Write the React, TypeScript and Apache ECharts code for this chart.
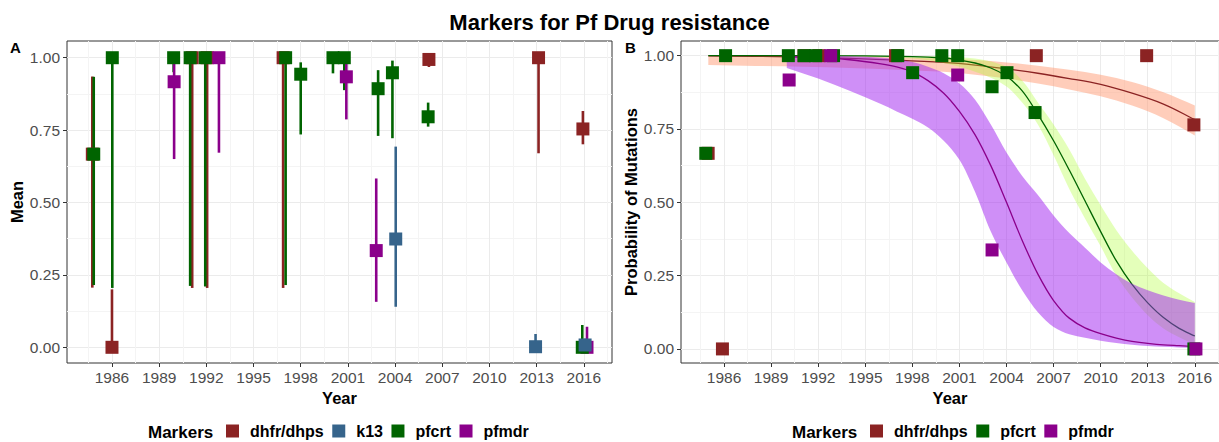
import React, { useEffect, useRef } from 'react';
import * as echarts from 'echarts';

const FONT = 'Liberation Sans, Arial, Helvetica, sans-serif';

const markers = ['dhfr/dhps', 'k13', 'pfcrt', 'pfmdr'];
const markersB = ['dhfr/dhps', 'pfcrt', 'pfmdr'];
const markerColors: Record<string, string> = {
  'dhfr/dhps': '#8B2323',
  k13: '#36648B',
  pfcrt: '#006400',
  pfmdr: '#8B008B',
};
const ribbonColors: Record<string, string> = {
  'dhfr/dhps': 'rgba(255,160,122,0.52)',
  pfcrt: 'rgba(173,255,47,0.33)',
  pfmdr: 'rgba(160,32,240,0.5)',
};

const xTicks = [1986, 1989, 1992, 1995, 1998, 2001, 2004, 2007, 2010, 2013, 2016];
const xMinor = [1984.5, 1987.5, 1990.5, 1993.5, 1996.5, 1999.5, 2002.5, 2005.5, 2008.5, 2011.5, 2014.5, 2017.5];
const yTicks = [0, 0.25, 0.5, 0.75, 1];
const yMinor = [0.125, 0.375, 0.625, 0.875];

// Panel A: [year, mean, lower, upper]
const meanDhfr = [
  [1984.75, 0.667, 0.206, 0.935],
  [1986.0, 0.0, 0.0, 0.2],
  [1991.1, 1.0, 0.205, 1.0],
  [1992.05, 1.0, 0.205, 1.0],
  [1996.88, 1.0, 0.205, 1.0],
  [2006.15, 0.994, 0.968, 1.0],
  [2013.12, 1.0, 0.67, 1.0],
  [2015.94, 0.754, 0.701, 0.816],
];
const meanK13 = [
  [2004.04, 0.374, 0.14, 0.693],
  [2012.93, 0.002, 0.0, 0.046],
  [2016.08, 0.008, 0.0, 0.03],
];
const meanPfcrt = [
  [1984.84, 0.667, 0.215, 0.934],
  [1986.02, 1.0, 0.205, 1.0],
  [1989.92, 1.0, 0.95, 1.0],
  [1990.97, 1.0, 0.212, 1.0],
  [1991.93, 1.0, 0.21, 1.0],
  [1997.04, 1.0, 0.215, 1.0],
  [1998.0, 0.943, 0.735, 0.984],
  [2000.05, 1.0, 0.946, 1.0],
  [2000.77, 1.0, 0.888, 1.0],
  [2002.92, 0.893, 0.73, 0.957],
  [2003.83, 0.948, 0.722, 0.99],
  [2006.1, 0.796, 0.762, 0.845],
  [2015.9, 0.0, 0.0, 0.077],
];
const meanPfmdr = [
  [1989.95, 0.917, 0.65, 0.985],
  [1992.8, 1.0, 0.672, 1.0],
  [2000.9, 0.934, 0.787, 0.985],
  [2002.8, 0.334, 0.157, 0.583],
  [2016.2, 0.0, 0.0, 0.071],
];

// Panel B observed proportions: [year, proportion]
const probDhfr = [
  [1984.99, 0.667],
  [1985.9, 0.0],
  [1991.1, 1.0],
  [1992.05, 1.0],
  [1996.93, 1.0],
  [2005.9, 1.0],
  [2012.93, 1.0],
  [2015.94, 0.764],
];
const probPfcrt = [
  [1984.84, 0.667],
  [1986.1, 1.0],
  [1990.1, 1.0],
  [1991.1, 1.0],
  [1991.84, 1.0],
  [1992.98, 1.0],
  [1997.07, 1.0],
  [1998.02, 0.942],
  [1999.88, 1.0],
  [2000.89, 1.0],
  [2003.08, 0.894],
  [2004.03, 0.942],
  [2005.82, 0.806],
  [2015.94, 0.0],
];
const probPfmdr = [
  [1990.15, 0.917],
  [1992.8, 1.0],
  [2000.89, 0.934],
  [2003.08, 0.3375],
  [2016.07, 0.0],
];

// Panel B fitted curves: [year, fit, lower, upper]
const fitDhfr = [
  [1985, 0.999, 0.968, 1.0],
  [1988, 0.998, 0.965, 1.0],
  [1991, 0.995, 0.962, 0.999],
  [1994, 0.991, 0.958, 0.998],
  [1997, 0.985, 0.952, 0.995],
  [2000, 0.977, 0.945, 0.99],
  [2002, 0.968, 0.935, 0.985],
  [2004, 0.955, 0.922, 0.977],
  [2006, 0.94, 0.905, 0.966],
  [2008, 0.922, 0.885, 0.952],
  [2010, 0.902, 0.862, 0.935],
  [2012, 0.872, 0.83, 0.91],
  [2014, 0.835, 0.787, 0.875],
  [2016, 0.782, 0.728, 0.83],
];
const fitPfcrt = [
  [1985, 1.0, 0.999, 1.0],
  [1990, 1.0, 0.998, 1.0],
  [1995, 0.999, 0.996, 1.0],
  [1998, 0.997, 0.99, 0.999],
  [2000, 0.992, 0.975, 0.997],
  [2001, 0.985, 0.962, 0.995],
  [2002, 0.975, 0.945, 0.99],
  [2003, 0.958, 0.925, 0.98],
  [2004, 0.93, 0.895, 0.962],
  [2005, 0.88, 0.84, 0.915],
  [2006, 0.8, 0.765, 0.84],
  [2007, 0.71, 0.66, 0.765],
  [2008, 0.61, 0.545, 0.68],
  [2009, 0.505, 0.445, 0.58],
  [2010, 0.4, 0.35, 0.49],
  [2011, 0.3, 0.25, 0.405],
  [2012, 0.22, 0.175, 0.335],
  [2013, 0.157, 0.115, 0.275],
  [2014, 0.107, 0.07, 0.225],
  [2015, 0.07, 0.04, 0.19],
  [2016, 0.044, 0.015, 0.16],
];
const fitPfmdr = [
  [1990, 0.997, 0.958, 0.999],
  [1992, 0.994, 0.922, 0.999],
  [1994, 0.986, 0.88, 0.998],
  [1996, 0.972, 0.835, 0.993],
  [1997, 0.962, 0.81, 0.988],
  [1998, 0.945, 0.785, 0.978],
  [1999, 0.915, 0.755, 0.962],
  [2000, 0.872, 0.71, 0.94],
  [2001, 0.81, 0.645, 0.905],
  [2002, 0.73, 0.535, 0.85],
  [2003, 0.625, 0.4, 0.765],
  [2004, 0.5, 0.295, 0.67],
  [2005, 0.37, 0.2, 0.59],
  [2006, 0.255, 0.125, 0.525],
  [2007, 0.165, 0.075, 0.455],
  [2008, 0.105, 0.05, 0.395],
  [2009, 0.072, 0.038, 0.345],
  [2010, 0.052, 0.028, 0.295],
  [2011, 0.037, 0.02, 0.255],
  [2012, 0.026, 0.014, 0.222],
  [2013, 0.019, 0.01, 0.2],
  [2014, 0.014, 0.007, 0.182],
  [2015, 0.011, 0.005, 0.168],
  [2016, 0.008, 0.003, 0.157],
];

// monotone cubic path through pixel points
function monotone(pts: number[][], cmd: string): string {
  const n = pts.length;
  if (n === 0) return '';
  let d = `${cmd}${pts[0][0]} ${pts[0][1]}`;
  if (n === 1) return d;
  const dx: number[] = [];
  const m: number[] = [];
  for (let i = 0; i < n - 1; i++) {
    dx[i] = pts[i + 1][0] - pts[i][0];
    m[i] = dx[i] === 0 ? 0 : (pts[i + 1][1] - pts[i][1]) / dx[i];
  }
  const t: number[] = new Array(n).fill(0);
  t[0] = m[0];
  t[n - 1] = m[n - 2];
  for (let i = 1; i < n - 1; i++) {
    if (m[i - 1] * m[i] <= 0) t[i] = 0;
    else {
      t[i] = (3 * (dx[i - 1] + dx[i])) / ((2 * dx[i] + dx[i - 1]) / m[i - 1] + (dx[i] + 2 * dx[i - 1]) / m[i]);
    }
  }
  for (let i = 0; i < n - 1; i++) {
    const h = dx[i] / 3;
    const [x0, y0] = pts[i];
    const [x1, y1] = pts[i + 1];
    d += ` C${x0 + h} ${y0 + t[i] * h} ${x1 - h} ${y1 - t[i + 1] * h} ${x1} ${y1}`;
  }
  return d;
}

const axisLabelStyle = { color: '#4D4D4D', fontSize: 15.5, fontFamily: FONT };
const nameStyle = { color: '#000', fontSize: 16.5, fontWeight: 'bold' as const, fontFamily: FONT };

function xAxes(gridIndex: number, min: number, max: number) {
  return [
    {
      gridIndex, type: 'value', min, max, position: 'bottom',
      name: 'Year', nameLocation: 'middle', nameGap: 22, nameTextStyle: nameStyle,
      axisLine: { show: false, onZero: false },
      axisTick: { show: true, length: 4, lineStyle: { color: '#333' }, customValues: xTicks },
      axisLabel: { ...axisLabelStyle, margin: 6, customValues: xTicks, formatter: (v: number) => String(Math.round(v)) },
      splitLine: { show: true, lineStyle: { color: '#EBEBEB', width: 1 } },
    },
    {
      gridIndex, type: 'value', min, max, position: 'top',
      axisLine: { show: false, onZero: false },
      axisTick: { show: false, customValues: xMinor },
      axisLabel: { show: false, customValues: xMinor },
      splitLine: { show: true, lineStyle: { color: '#F4F4F4', width: 1 } },
    },
  ];
}
function yAxes(gridIndex: number, min: number, max: number, name: string) {
  return [
    {
      gridIndex, type: 'value', min, max, position: 'left',
      name, nameLocation: 'middle', nameGap: 42, nameTextStyle: nameStyle,
      axisLine: { show: false, onZero: false },
      axisTick: { show: true, length: 4, lineStyle: { color: '#333' }, customValues: yTicks },
      axisLabel: { ...axisLabelStyle, margin: 7, customValues: yTicks, formatter: (v: number) => v.toFixed(2) },
      splitLine: { show: true, lineStyle: { color: '#EBEBEB', width: 1 } },
    },
    {
      gridIndex, type: 'value', min, max, position: 'right',
      axisLine: { show: false, onZero: false },
      axisTick: { show: false, customValues: yMinor },
      axisLabel: { show: false, customValues: yMinor },
      splitLine: { show: true, lineStyle: { color: '#F4F4F4', width: 1 } },
    },
  ];
}

function errorBars(name: string, rows: number[][]) {
  const color = markerColors[name];
  return {
    type: 'custom', name: name + ' CI', xAxisIndex: 0, yAxisIndex: 0, data: rows,
    encode: { x: 0, y: [2, 3] }, silent: true,
    renderItem: (params: any, api: any) => {
      const a = api.coord([api.value(0), api.value(2)]);
      const b = api.coord([api.value(0), api.value(3)]);
      return { type: 'line', shape: { x1: a[0], y1: a[1], x2: b[0], y2: b[1] }, style: { stroke: color, lineWidth: 2.6 } };
    },
  };
}
function points(name: string, rows: number[][], xi: number, yi: number) {
  return {
    type: 'scatter', name, xAxisIndex: xi, yAxisIndex: yi, data: rows, encode: { x: 0, y: 1 },
    symbol: 'rect', symbolSize: 13, itemStyle: { color: markerColors[name], opacity: 1 }, silent: true,
  };
}
function ribbon(name: string, rows: number[][]) {
  const color = ribbonColors[name];
  return {
    type: 'custom', name: name + ' band', xAxisIndex: 2, yAxisIndex: 2, data: rows,
    encode: { x: 0, y: [2, 3] }, silent: true, clip: true,
    renderItem: (params: any, api: any) => {
      if (params.dataIndex !== 0) return null;
      const up = rows.map((r) => api.coord([r[0], r[3]]));
      const lo = rows.map((r) => api.coord([r[0], r[2]])).reverse();
      return { type: 'path', shape: { pathData: monotone(up, 'M') + ' ' + monotone(lo, 'L') + ' Z' }, style: { fill: color, stroke: 'none' } };
    },
  };
}
function fitLine(name: string, rows: number[][]) {
  const color = markerColors[name];
  return {
    type: 'custom', name: name + ' fit', xAxisIndex: 2, yAxisIndex: 2, data: rows,
    encode: { x: 0, y: 1 }, silent: true, clip: true,
    renderItem: (params: any, api: any) => {
      if (params.dataIndex !== 0) return null;
      const pts = rows.map((r) => api.coord([r[0], r[1]]));
      return { type: 'path', shape: { pathData: monotone(pts, 'M') }, style: { fill: 'none', stroke: color, lineWidth: 1.3 } };
    },
  };
}

const legendBase = {
  orient: 'horizontal', top: 423, padding: 0, icon: 'rect', itemWidth: 13, itemHeight: 13, itemGap: 8.5,
  selectedMode: false,
  textStyle: { color: '#000', fontSize: 16, fontWeight: 'bold', fontFamily: FONT, padding: [0, 0, 0, 6] },
};

export default function App() {
  const ref = useRef<HTMLDivElement>(null);
  useEffect(() => {
    if (!ref.current) return;
    const chart = echarts.init(ref.current, undefined, { renderer: 'svg' });
    const option: any = {
      animation: false,
      backgroundColor: '#fff',
      title: {
        text: 'Markers for Pf Drug resistance', left: 'center', top: 6,
        textStyle: { fontSize: 22, fontWeight: 'bold', color: '#000', fontFamily: FONT },
      },
      grid: [
        { left: 67, top: 41, width: 545, height: 322, show: true, borderColor: '#333', borderWidth: 1, backgroundColor: '#fff' },
        { left: 681, top: 41, width: 542, height: 322, show: true, borderColor: '#333', borderWidth: 1, backgroundColor: '#fff' },
      ],
      xAxis: [...xAxes(0, 1983.14, 2017.79), ...xAxes(1, 1983.26, 2017.54)],
      yAxis: [...yAxes(0, -0.0542, 1.0577, 'Mean'), ...yAxes(1, -0.048, 1.05, 'Probability of Mutations')],
      legend: [
        { ...legendBase, left: 226, data: markers },
        { ...legendBase, left: 870, data: markersB },
      ],
      graphic: [
        { type: 'text', left: 10, top: 40, style: { text: 'A', fontSize: 15, fontWeight: 'bold', fontFamily: FONT, fill: '#000' } },
        { type: 'text', left: 625, top: 40, style: { text: 'B', fontSize: 15, fontWeight: 'bold', fontFamily: FONT, fill: '#000' } },
        { type: 'text', x: 148, y: 432, style: { text: 'Markers', fontSize: 17, fontWeight: 'bold', fontFamily: FONT, fill: '#000', verticalAlign: 'middle' } },
        { type: 'text', x: 792, y: 432, style: { text: 'Markers', fontSize: 17, fontWeight: 'bold', fontFamily: FONT, fill: '#000', verticalAlign: 'middle' } },
      ],
      series: [
        errorBars('dhfr/dhps', meanDhfr),
        errorBars('pfcrt', meanPfcrt),
        errorBars('pfmdr', meanPfmdr),
        errorBars('k13', meanK13),
        points('dhfr/dhps', meanDhfr, 0, 0),
        points('pfmdr', meanPfmdr, 0, 0),
        points('pfcrt', meanPfcrt, 0, 0),
        points('k13', meanK13, 0, 0),
        ribbon('dhfr/dhps', fitDhfr),
        fitLine('dhfr/dhps', fitDhfr),
        ribbon('pfcrt', fitPfcrt),
        fitLine('pfcrt', fitPfcrt),
        ribbon('pfmdr', fitPfmdr),
        fitLine('pfmdr', fitPfmdr),
        points('dhfr/dhps', probDhfr, 2, 2),
        points('pfcrt', probPfcrt, 2, 2),
        points('pfmdr', probPfmdr, 2, 2),
      ],
    };
    chart.setOption(option);
    return () => chart.dispose();
  }, []);
  return <div ref={ref} style={{ position: 'fixed', left: 0, top: 0, width: 1219, height: 442 }} />;
}
